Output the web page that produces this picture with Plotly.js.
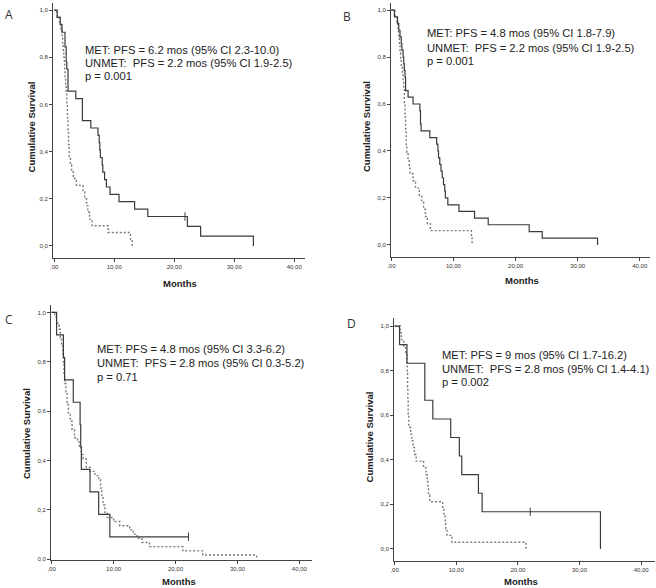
<!DOCTYPE html>
<html>
<head>
<meta charset="utf-8">
<script src="https://cdn.plot.ly/plotly-3.0.1.min.js"></script>
<style>html,body{margin:0;padding:0;background:#fff;} #chart{width:656px;height:588px;}</style>
</head>
<body>
<div id="chart"></div>
<script>
// ---------- DATA ----------
var yTickVals = [0, 0.2, 0.4, 0.6, 0.8, 1.0];
var yTickText = ["0,0", "0,2", "0,4", "0,6", "0,8", "1,0"];
var xTickVals = [0, 10, 20, 30, 40];
var xTickText = [",00", "10,00", "20,00", "30,00", "40,00"];

// Panel A
var metA_t = [0, 0.5, 1.0, 1.3, 1.8, 2.0, 2.1, 2.3, 3.6, 4.7, 6.1, 7.3, 7.5, 7.6, 7.7, 8.0, 8.1, 8.4, 8.7, 9.3, 10.8, 13.4, 15.6, 22.2, 24.4, 33.2, 33.2];
var metA_s = [1, 0.969, 0.938, 0.906, 0.844, 0.781, 0.75, 0.656, 0.625, 0.531, 0.5, 0.469, 0.438, 0.406, 0.375, 0.344, 0.313, 0.281, 0.25, 0.219, 0.188, 0.156, 0.125, 0.083, 0.042, 0.042, 0];
var metA_cx = [21.8];
var metA_cy = [0.125];
var unmetA_t = [0, 0.5, 0.9, 1.1, 1.3, 1.4, 1.5, 1.6, 1.7, 1.75, 1.8, 1.9, 2.0, 2.1, 2.2, 2.3, 2.4, 2.5, 2.7, 2.9, 3.2, 3.7, 4.8, 5.1, 5.4, 5.6, 5.9, 6.3, 9.0, 12.7, 13.0, 13.0];
var unmetA_s = [1, 0.971, 0.943, 0.914, 0.886, 0.857, 0.829, 0.8, 0.771, 0.743, 0.714, 0.686, 0.657, 0.6, 0.543, 0.486, 0.429, 0.371, 0.343, 0.314, 0.286, 0.257, 0.229, 0.2, 0.171, 0.143, 0.114, 0.086, 0.057, 0.029, 0.029, 0];

// Panel B
var metB_t = [0, 0.5, 1.0, 1.2, 1.4, 1.6, 1.7, 1.9, 2.0, 2.1, 2.2, 2.3, 2.7, 3.5, 4.6, 4.7, 4.8, 6.2, 7.3, 7.5, 7.6, 7.8, 8.0, 8.2, 8.4, 8.6, 8.7, 9.1, 10.9, 13.4, 15.6, 22.2, 24.3, 33.2, 33.2];
var metB_s = [1, 0.971, 0.943, 0.914, 0.886, 0.857, 0.829, 0.8, 0.771, 0.743, 0.714, 0.657, 0.629, 0.6, 0.571, 0.514, 0.486, 0.457, 0.429, 0.4, 0.371, 0.343, 0.314, 0.286, 0.257, 0.229, 0.2, 0.171, 0.143, 0.114, 0.086, 0.057, 0.029, 0.029, 0];
var unmetB_t = [0, 0.6, 0.9, 1.1, 1.2, 1.3, 1.4, 1.5, 1.6, 1.8, 1.9, 2.0, 2.1, 2.2, 2.3, 2.4, 2.5, 2.7, 2.9, 3.0, 3.5, 3.9, 4.5, 4.9, 5.2, 5.5, 5.8, 6.3, 12.9, 13.0, 13.0];
var unmetB_s = [1, 0.97, 0.939, 0.909, 0.879, 0.848, 0.818, 0.788, 0.758, 0.727, 0.697, 0.667, 0.606, 0.545, 0.485, 0.424, 0.394, 0.364, 0.333, 0.303, 0.273, 0.242, 0.212, 0.182, 0.152, 0.121, 0.091, 0.061, 0.03, 0.03, 0];

// Panel C
var metC_t = [0, 0.8, 1.9, 2.1, 3.5, 4.6, 4.7, 4.8, 6.2, 7.6, 9.4, 22.1];
var metC_s = [1, 0.909, 0.818, 0.727, 0.636, 0.545, 0.455, 0.364, 0.273, 0.182, 0.091, 0.091];
var metC_cx = [22.1];
var metC_cy = [0.091];
var unmetC_t = [0, 0.5, 0.8, 1.0, 1.2, 1.4, 1.6, 1.8, 1.9, 2.0, 2.1, 2.3, 2.5, 2.7, 3.0, 3.3, 3.7, 4.2, 4.5, 4.8, 5.1, 5.6, 6.2, 7.0, 7.6, 7.9, 8.1, 8.3, 8.6, 9.0, 10.0, 11.0, 12.6, 13.2, 13.8, 14.6, 15.8, 21.2, 24.4, 33.1, 33.1];
var unmetC_s = [1, 0.983, 0.966, 0.949, 0.932, 0.898, 0.864, 0.831, 0.797, 0.746, 0.712, 0.678, 0.627, 0.593, 0.559, 0.525, 0.492, 0.475, 0.458, 0.424, 0.407, 0.373, 0.356, 0.339, 0.322, 0.288, 0.254, 0.22, 0.186, 0.169, 0.153, 0.136, 0.119, 0.102, 0.085, 0.068, 0.051, 0.034, 0.017, 0.017, 0];

// Panel D
var metD_t = [0, 0.8, 2.0, 4.9, 6.2, 9.1, 10.5, 10.9, 13.6, 14.2, 33.4, 33.4];
var metD_s = [1, 0.917, 0.833, 0.667, 0.583, 0.5, 0.417, 0.333, 0.25, 0.167, 0.167, 0];
var metD_cx = [22.0];
var metD_cy = [0.167];
var unmetD_t = [0, 0.9, 1.1, 1.5, 1.8, 2.0, 2.05, 2.1, 2.15, 2.2, 2.3, 2.6, 2.8, 3.0, 3.2, 3.5, 4.7, 5.1, 5.3, 5.4, 5.5, 5.7, 7.8, 8.0, 8.2, 8.3, 8.5, 9.3, 21.3, 21.3];
var unmetD_s = [1, 0.97, 0.939, 0.909, 0.879, 0.848, 0.788, 0.727, 0.667, 0.606, 0.545, 0.515, 0.485, 0.455, 0.424, 0.394, 0.364, 0.333, 0.303, 0.273, 0.242, 0.212, 0.182, 0.152, 0.121, 0.091, 0.061, 0.03, 0.03, 0];

var panelLetters = ["A", "B", "C", "D"];
var statsA = ["MET: PFS = 6.2 mos (95% CI 2.3-10.0)", "UNMET:  PFS = 2.2 mos (95% CI 1.9-2.5)", "p = 0.001"];
var statsB = ["MET: PFS = 4.8 mos (95% CI 1.8-7.9)", "UNMET:  PFS = 2.2 mos (95% CI 1.9-2.5)", "p = 0.001"];
var statsC = ["MET: PFS = 4.8 mos (95% CI 3.3-6.2)", "UNMET:  PFS = 2.8 mos (95% CI 0.3-5.2)", "p = 0.71"];
var statsD = ["MET: PFS = 9 mos (95% CI 1.7-16.2)", "UNMET:  PFS = 2.8 mos (95% CI 1.4-4.1)", "p = 0.002"];
var xTitle = "Months";
var yTitle = "Cumulative Survival";

// ---------- LAYOUT HELPERS ----------
var W = 656, H = 588;
function fx(px) { return px / W; }
function fy(py) { return 1 - py / H; }

var solidColor = "#3a3a3a";
var dashColor = "#7a7a7a";

function stepTrace(t, s, ax, dashed) {
  return {
    x: t, y: s, xaxis: "x" + ax, yaxis: "y" + ax,
    type: "scatter", mode: "lines",
    line: {shape: "hv", color: dashed ? dashColor : solidColor, width: dashed ? 1.4 : 1.2, dash: dashed ? "2px,2px" : "solid"},
    hoverinfo: "skip"
  };
}
function censorTrace(cx, cy, ax) {
  return {
    x: cx, y: cy, xaxis: "x" + ax, yaxis: "y" + ax,
    type: "scatter", mode: "markers",
    marker: {symbol: "line-ns-open", size: 6, color: solidColor, line: {color: solidColor, width: 1}},
    hoverinfo: "skip"
  };
}

var data = [
  stepTrace(unmetA_t, unmetA_s, "", true), stepTrace(metA_t, metA_s, "", false), censorTrace(metA_cx, metA_cy, ""),
  stepTrace(unmetB_t, unmetB_s, "2", true), stepTrace(metB_t, metB_s, "2", false),
  stepTrace(unmetC_t, unmetC_s, "3", true), stepTrace(metC_t, metC_s, "3", false), censorTrace(metC_cx, metC_cy, "3"),
  stepTrace(unmetD_t, unmetD_s, "4", true), stepTrace(metD_t, metD_s, "4", false), censorTrace(metD_cx, metD_cy, "4")
];

var tickFont = {family: "Liberation Sans, Arial, sans-serif", size: 6, color: "#333"};
function xAx(domain, range, anchor) {
  return {domain: domain, range: range, anchor: anchor, showgrid: false, zeroline: false,
    showline: true, linecolor: "#444", linewidth: 1, ticks: "outside", ticklen: 3, tickwidth: 1, tickcolor: "#444",
    tickvals: xTickVals, ticktext: xTickText, tickfont: tickFont, fixedrange: true};
}
function yAx(domain, range, anchor) {
  return {domain: domain, range: range, anchor: anchor, showgrid: false, zeroline: false,
    showline: true, linecolor: "#444", linewidth: 1, ticks: "outside", ticklen: 3, tickwidth: 1, tickcolor: "#444",
    tickvals: yTickVals, ticktext: yTickText, tickfont: tickFont, fixedrange: true};
}

var layout = {
  width: W, height: H, margin: {l: 0, r: 0, t: 0, b: 0},
  paper_bgcolor: "#fff", plot_bgcolor: "#fff", showlegend: false,
  xaxis:  xAx([fx(53), fx(305)], [-0.2, 41.8], "y"),
  yaxis:  yAx([fy(258), fy(3)], [-0.051, 1.03], "x"),
  xaxis2: xAx([fx(391), fx(649.7)], [-0.05, 41.6], "y2"),
  yaxis2: yAx([fy(256.7), fy(3)], [-0.05, 1.03], "x2"),
  xaxis3: xAx([fx(51), fx(311.7)], [-0.1, 42.0], "y3"),
  yaxis3: yAx([fy(560), fy(305)], [-0.003, 1.03], "x3"),
  xaxis4: xAx([fx(394), fx(654.7)], [-0.1, 42.2], "y4"),
  yaxis4: yAx([fy(561), fy(318)], [-0.054, 1.036], "x4"),
  annotations: []
};

var txtFont = {family: "Liberation Sans, Arial, sans-serif", size: 11.2, color: "#222"};
var titleFont = {family: "Liberation Sans, Arial, sans-serif", size: 9.5, color: "#222"};
var letterFont = {family: "Open Sans, Liberation Sans, sans-serif", size: 12, color: "#333"};

function addText(text, px, py, font, xanchor, angle) {
  layout.annotations.push({text: text, xref: "paper", yref: "paper", x: fx(px), y: fy(py),
    xanchor: xanchor || "left", yanchor: "middle", showarrow: false, font: font, textangle: angle || 0});
}
function addStats(lines, px, rows) {
  for (var i = 0; i < lines.length; i++) addText(lines[i], px, rows[i], txtFont, "left");
}

addStats(statsA, 83, [50, 63.3, 76]);
addStats(statsB, 424.5, [33.3, 47.5, 61.5]);
addStats(statsC, 95, [348.5, 362.7, 377.3]);
addStats(statsD, 439.5, [355, 369.3, 382]);

addText(panelLetters[0], 3, 14, letterFont, "left");
addText(panelLetters[1], 341, 17, letterFont, "left");
addText(panelLetters[2], 3, 319, letterFont, "left");
addText(panelLetters[3], 345, 323, letterFont, "left");

addText("<b>" + xTitle + "</b>", 180, 283.3, titleFont, "center");
addText("<b>" + xTitle + "</b>", 522.3, 281, titleFont, "center");
addText("<b>" + xTitle + "</b>", 179.3, 581.5, titleFont, "center");
addText("<b>" + xTitle + "</b>", 520.7, 581.5, titleFont, "center");

addText("<b>" + yTitle + "</b>", 31.7, 126.7, titleFont, "center", -90);
addText("<b>" + yTitle + "</b>", 366.3, 126.7, titleFont, "center", -90);
addText("<b>" + yTitle + "</b>", 26.7, 433.3, titleFont, "center", -90);
addText("<b>" + yTitle + "</b>", 369.7, 436.7, titleFont, "center", -90);

Plotly.newPlot("chart", data, layout, {displayModeBar: false, staticPlot: true});
</script>
</body>
</html>
